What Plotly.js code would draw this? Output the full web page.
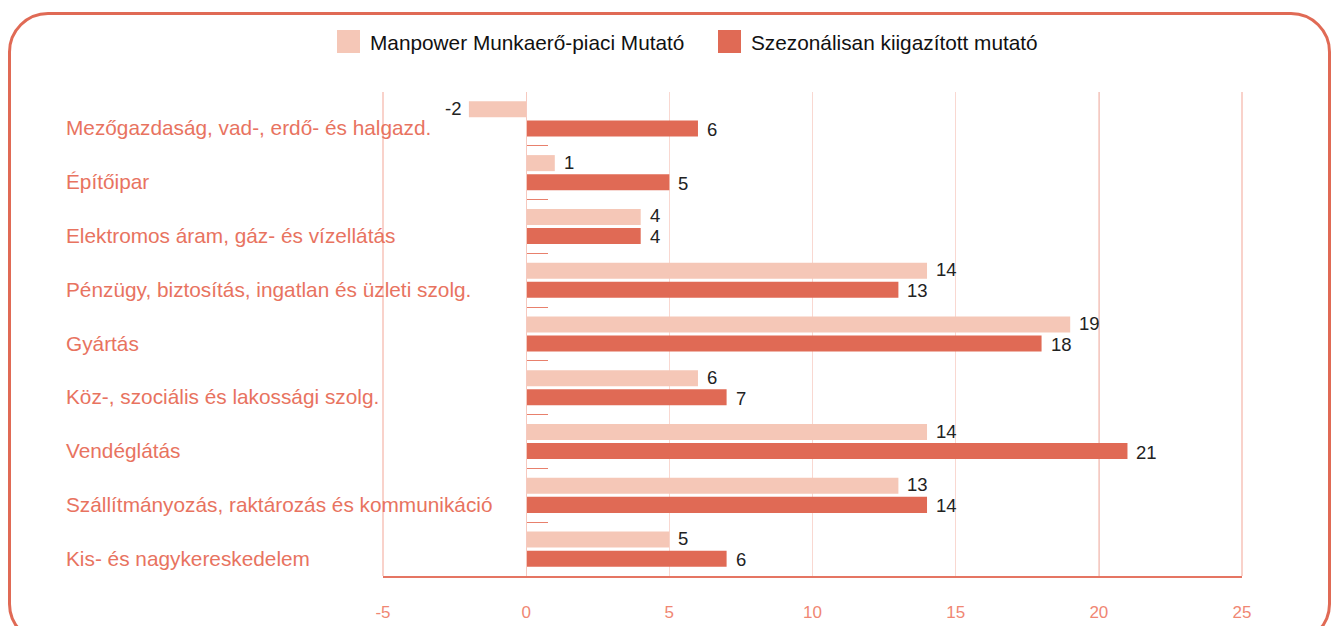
<!DOCTYPE html>
<html>
<head>
<meta charset="utf-8">
<script src="https://cdn.plot.ly/plotly-3.0.1.min.js"></script>
<style>
  html, body { margin: 0; padding: 0; background: #ffffff; overflow: hidden; }
  #frame { position: absolute; left: 8px; top: 12px; width: 1323px; height: 632px; box-sizing: border-box;
           border: 3px solid #e06a55; border-radius: 40px; }
  #chart { position: absolute; left: 0; top: 0; width: 1333px; height: 626px; }
</style>
</head>
<body>
<div id="frame"></div>
<div id="chart"></div>
<script>
// ---- data ----
const categories = [
  "Mezőgazdaság, vad-, erdő- és halgazd.",
  "Építőipar",
  "Elektromos áram, gáz- és vízellátás",
  "Pénzügy, biztosítás, ingatlan és üzleti szolg.",
  "Gyártás",
  "Köz-, szociális és lakossági szolg.",
  "Vendéglátás",
  "Szállítmányozás, raktározás és kommunikáció",
  "Kis- és nagykereskedelem"
];
const seriesNames = ["Manpower Munkaerő-piaci Mutató", "Szezonálisan kiigazított mutató"];
const manpowerValues = [-2, 1, 4, 14, 19, 6, 14, 13, 5];
const manpowerLabels = ["-2", "1", "4", "14", "19", "6", "14", "13", "5"];
const seasonalValues = [6, 5, 4, 13, 18, 7, 21, 14, 7];
const seasonalLabels = ["6", "5", "4", "13", "18", "7", "21", "14", "6"];
const xTickValues = [-5, 0, 5, 10, 15, 20, 25];
const xTickLabels = ["-5", "0", "5", "10", "15", "20", "25"];
const xRange = [-5, 25];
const referenceLineValue = 20;

// ---- styling ----
const lightColor = "#f5c7b7";
const darkColor = "#e06a55";
const font = "Liberation Sans, Arial, sans-serif";

const W = 1333, H = 626;
const M = { l: 383, r: 91, t: 92, b: 50 };
const pw = W - M.l - M.r, ph = H - M.t - M.b;
const px2x = p => (p - M.l) / pw;
const py2y = p => (H - M.b - p) / ph;

const traces = [
  { type: "bar", orientation: "h", name: seriesNames[0], y: categories, x: manpowerValues,
    marker: { color: lightColor }, showlegend: false, hoverinfo: "x+y" },
  { type: "bar", orientation: "h", name: seriesNames[1], y: categories, x: seasonalValues,
    marker: { color: darkColor }, showlegend: false, hoverinfo: "x+y" }
];

const annotations = [];
// category labels (left aligned)
categories.forEach(c => annotations.push({
  xref: "paper", yref: "y", x: px2x(64), y: c, xanchor: "left", yanchor: "middle",
  yshift: -9, text: c, showarrow: false, font: { family: font, size: 20.8, color: "#e8735f" }
}));
// value labels
function addValueLabels(vals, labels, shift) {
  vals.forEach((v, i) => annotations.push({
    xref: "x", yref: "y", x: v, y: categories[i],
    xanchor: v < 0 ? "right" : "left", xshift: v < 0 ? -7 : 8, yshift: shift,
    text: labels[i], showarrow: false, borderpad: 0,
    font: { family: font, size: 18.5, color: "#222222" }
  }));
}
addValueLabels(manpowerValues, manpowerLabels, 10.5);
addValueLabels(seasonalValues, seasonalLabels, -10.5);

// custom legend
const legendSwatchX = [337, 718];
const legendColors = [lightColor, darkColor];
const shapes = [];
seriesNames.forEach((n, i) => {
  shapes.push({ type: "rect", xref: "paper", yref: "paper",
    x0: px2x(legendSwatchX[i]), x1: px2x(legendSwatchX[i] + 23), y0: py2y(53), y1: py2y(30),
    fillcolor: legendColors[i], line: { width: 0 } });
  annotations.push({ xref: "paper", yref: "paper", x: px2x(legendSwatchX[i] + 31), y: py2y(42),
    xanchor: "left", yanchor: "middle", text: n, showarrow: false,
    font: { family: font, size: 20.8, color: "#111111" } });
});
// frame lines
shapes.push({ type: "line", xref: "paper", yref: "paper", x0: 0, x1: 0, y0: 0, y1: 1,
  line: { color: "#f3a596", width: 1 }, layer: "below" });
shapes.push({ type: "line", xref: "paper", yref: "paper", x0: 1, x1: 1, y0: 0, y1: 1,
  line: { color: "#f3a596", width: 1 }, layer: "below" });
shapes.push({ type: "line", xref: "x", yref: "paper", x0: referenceLineValue, x1: referenceLineValue, y0: 0, y1: 1,
  line: { color: "#d9604d", width: 1 }, layer: "below" });

const layout = {
  width: W, height: H,
  margin: M,
  paper_bgcolor: "rgba(0,0,0,0)",
  plot_bgcolor: "rgba(0,0,0,0)",
  barmode: "group",
  bargap: 0.29,
  bargroupgap: 0.16,
  showlegend: false,
  font: { family: font },
  xaxis: {
    range: xRange, tickvals: xTickValues, ticktext: xTickLabels, ticks: "", showgrid: true,
    gridcolor: "#f9d8d1", gridwidth: 1,
    zeroline: false, showline: true, linecolor: "#e57563", linewidth: 1.5,
    ticklabelstandoff: 20,
    tickfont: { family: font, size: 17, color: "#f08773" }, fixedrange: true
  },
  yaxis: {
    type: "category", autorange: "reversed", anchor: "free", position: px2x(526),
    showline: true, linecolor: "#f6c9bf", linewidth: 1,
    ticks: "inside", tickson: "boundaries", ticklen: 21, tickcolor: "#e8806c", tickwidth: 1,
    showticklabels: false, showgrid: false, zeroline: false, fixedrange: true
  },
  shapes: shapes,
  annotations: annotations
};

Plotly.newPlot("chart", traces, layout, { displayModeBar: false, staticPlot: true });
</script>
</body>
</html>
